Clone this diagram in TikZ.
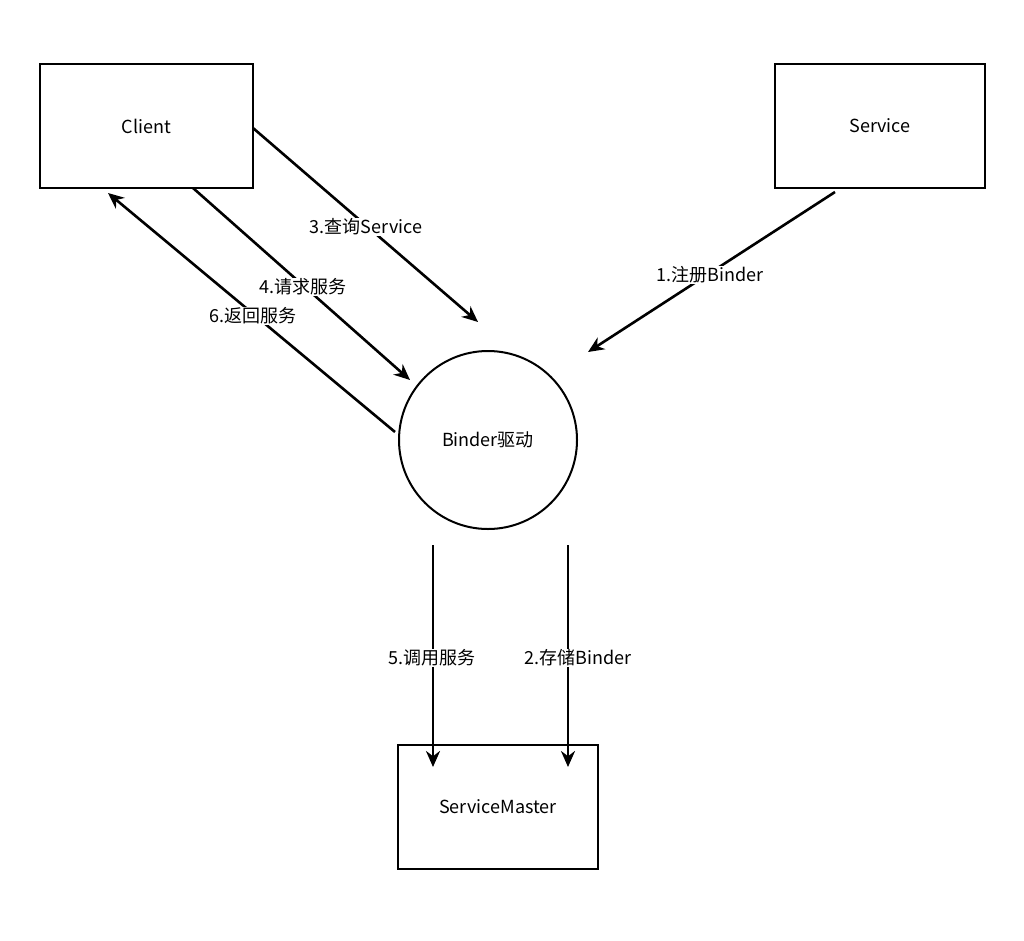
\documentclass[tikz,border=0pt]{standalone}
\usepackage{fontspec}
\setmainfont{Noto Sans CJK SC}
\usetikzlibrary{arrows.meta}
\begin{document}
\begin{tikzpicture}[x=1pt,y=-1pt,
 box/.style={draw,line width=2pt,minimum width=#1,minimum height=124pt,inner sep=0pt},
 arr/.style={line width=2.6pt,-{Stealth[length=16pt,width=14pt]}},
 lbl/.style={font=\fontsize{18}{20}\selectfont}]
\useasboundingbox (0,0) rectangle (1024,940);
\node[box=213pt,lbl] (client) at (146.5,126) {Client};
\node[box=210pt,lbl] (service) at (880,126) {Service};
\node[draw,circle,line width=2pt,minimum size=178pt,inner sep=0pt,lbl] (binder) at (488,440) {Binder驱动};
\node[box=200pt,lbl] (master) at (498,806.5) {ServiceMaster};
\coordinate (c3) at (253,128); \coordinate (b3) at (478,322);
\coordinate (c4) at (193,188); \coordinate (b4) at (410,380);
\coordinate (b6) at (395,432); \coordinate (c6) at (108,193);
\coordinate (s1) at (835,192); \coordinate (b1) at (588,352);
\coordinate (b5) at (433,545); \coordinate (m5) at (433,767);
\coordinate (b2) at (568,545); \coordinate (m2) at (568,767);
\draw[arr] (c3) -- (b3);
\draw[arr] (c4) -- (b4);
\draw[arr] (b6) -- (c6);
\draw[arr] (s1) -- (b1);
\draw[arr] (b5) -- (m5);
\draw[arr] (b2) -- (m2);
\node[lbl,fill=white,inner sep=1pt] at (366,227) {3.查询Service};
\node[lbl,fill=white,inner sep=1pt] at (303,287) {4.请求服务};
\node[lbl,fill=white,inner sep=1pt] at (253,316) {6.返回服务};
\node[lbl,fill=white,inner sep=1pt] at (710,275) {1.注册Binder};
\node[lbl,fill=white,inner sep=1pt] at (432,658) {5.调用服务};
\node[lbl,fill=white,inner sep=1pt] at (578,658) {2.存储Binder};
\end{tikzpicture}
\end{document}
